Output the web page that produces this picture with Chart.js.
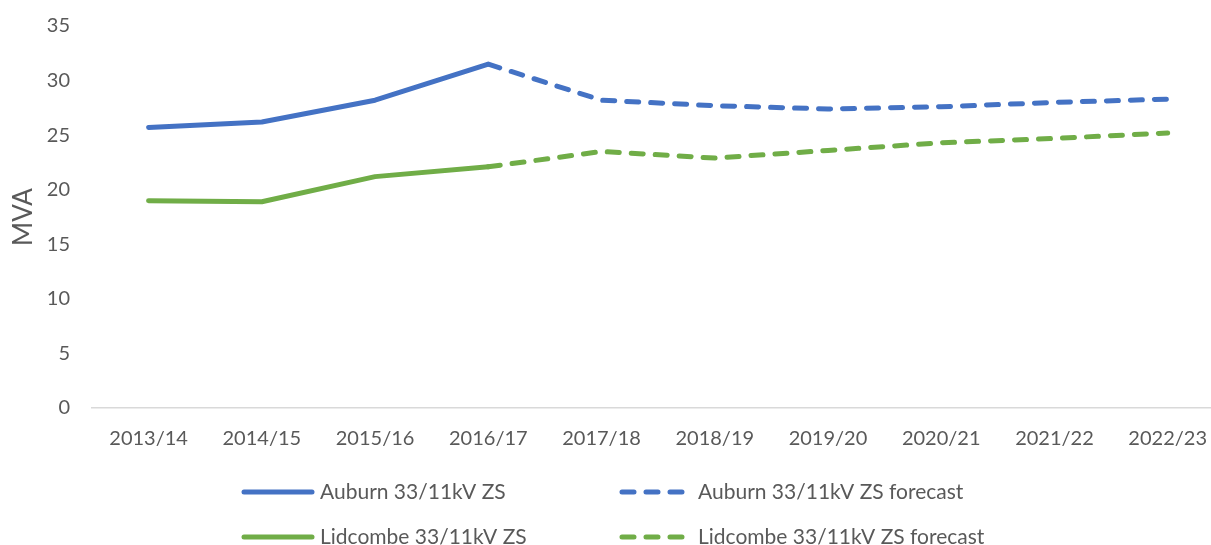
<!DOCTYPE html>
<html>
<head>
<meta charset="utf-8">
<script src="https://cdn.jsdelivr.net/npm/chart.js@4/dist/chart.umd.min.js"></script>
<style>
  html, body { margin: 0; padding: 0; background: #fff; overflow: hidden; }
  #wrap { position: relative; width: 1226px; height: 545px; }
</style>
</head>
<body>
<div id="wrap"><canvas id="chart"></canvas></div>
<script>
var years = ['2013/14', '2014/15', '2015/16', '2016/17', '2017/18', '2018/19', '2019/20', '2020/21', '2021/22', '2022/23'];
var auburn = [25.7, 26.2, 28.2, 31.5, null, null, null, null, null, null];
var auburnForecast = [null, null, null, 31.5, 28.2, 27.7, 27.4, 27.6, 28.0, 28.3];
var lidcombe = [19.0, 18.9, 21.2, 22.1, null, null, null, null, null, null];
var lidcombeForecast = [null, null, null, 22.1, 23.5, 22.9, 23.6, 24.3, 24.7, 25.2];

var blue = '#4472C4', green = '#70AD47', grey = '#595959';
var font = 'Lato, "Open Sans", sans-serif';

// legend drawn as a 2x2 grid, like the original
var gridLegend = {
    id: 'gridLegend',
    afterDraw: function(chart) {
        var ctx = chart.ctx;
        var cols = [242, 620], rows = [492, 537];
        chart.data.datasets.forEach(function(ds, i) {
            var x = cols[i % 2], y = rows[Math.floor(i / 2)];
            ctx.save();
            ctx.strokeStyle = ds.borderColor;
            ctx.lineWidth = 5;
            ctx.lineCap = 'round';
            ctx.setLineDash(ds.borderDash || []);
            ctx.beginPath();
            ctx.moveTo(x + 2, y);
            ctx.lineTo(x + 70, y);
            ctx.stroke();
            ctx.setLineDash([]);
            ctx.fillStyle = grey;
            ctx.font = '21px ' + font;
            ctx.textBaseline = 'middle';
            ctx.fillText(ds.label, x + 78, y);
            ctx.restore();
        });
    }
};

new Chart(document.getElementById('chart').getContext('2d'), {
    type: 'line',
    data: {
        labels: years,
        datasets: [{
            label: 'Auburn 33/11kV ZS',
            data: auburn,
            borderColor: blue
        }, {
            label: 'Auburn 33/11kV ZS forecast',
            data: auburnForecast,
            borderColor: blue,
            borderDash: [12, 12]
        }, {
            label: 'Lidcombe 33/11kV ZS',
            data: lidcombe,
            borderColor: green
        }, {
            label: 'Lidcombe 33/11kV ZS forecast',
            data: lidcombeForecast,
            borderColor: green,
            borderDash: [12, 12]
        }]
    },
    options: {
        responsive: true,
        maintainAspectRatio: false,
        animation: false,
        layout: {
            padding: { left: 0, right: 0, top: 26, bottom: 77 }
        },
        elements: {
            line: { borderWidth: 5, tension: 0, borderCapStyle: 'round', borderJoinStyle: 'round', fill: false },
            point: { radius: 0, hoverRadius: 0 }
        },
        plugins: {
            legend: { display: false },
            tooltip: { enabled: false }
        },
        scales: {
            x: {
                offset: true,
                grid: { display: false, drawTicks: false },
                border: { display: true, color: '#d9d9d9', width: 1.5 },
                ticks: { color: grey, font: { family: font, size: 20 }, padding: 19, maxRotation: 0 },
                afterFit: function(scale) { scale.height = 60; }
            },
            y: {
                min: 0,
                max: 35,
                grid: { display: false, drawTicks: false },
                border: { display: false },
                ticks: { stepSize: 5, color: grey, font: { family: font, size: 20 }, padding: 22 },
                title: {
                    display: true,
                    text: 'MVA',
                    color: grey,
                    font: { family: font, size: 26 },
                    padding: { top: 8, bottom: 0 }
                },
                afterFit: function(scale) {
                    scale.width = 92;
                    scale.paddingTop = 0;
                    scale.paddingBottom = 0;
                }
            }
        }
    },
    plugins: [gridLegend]
});
</script>
</body>
</html>
